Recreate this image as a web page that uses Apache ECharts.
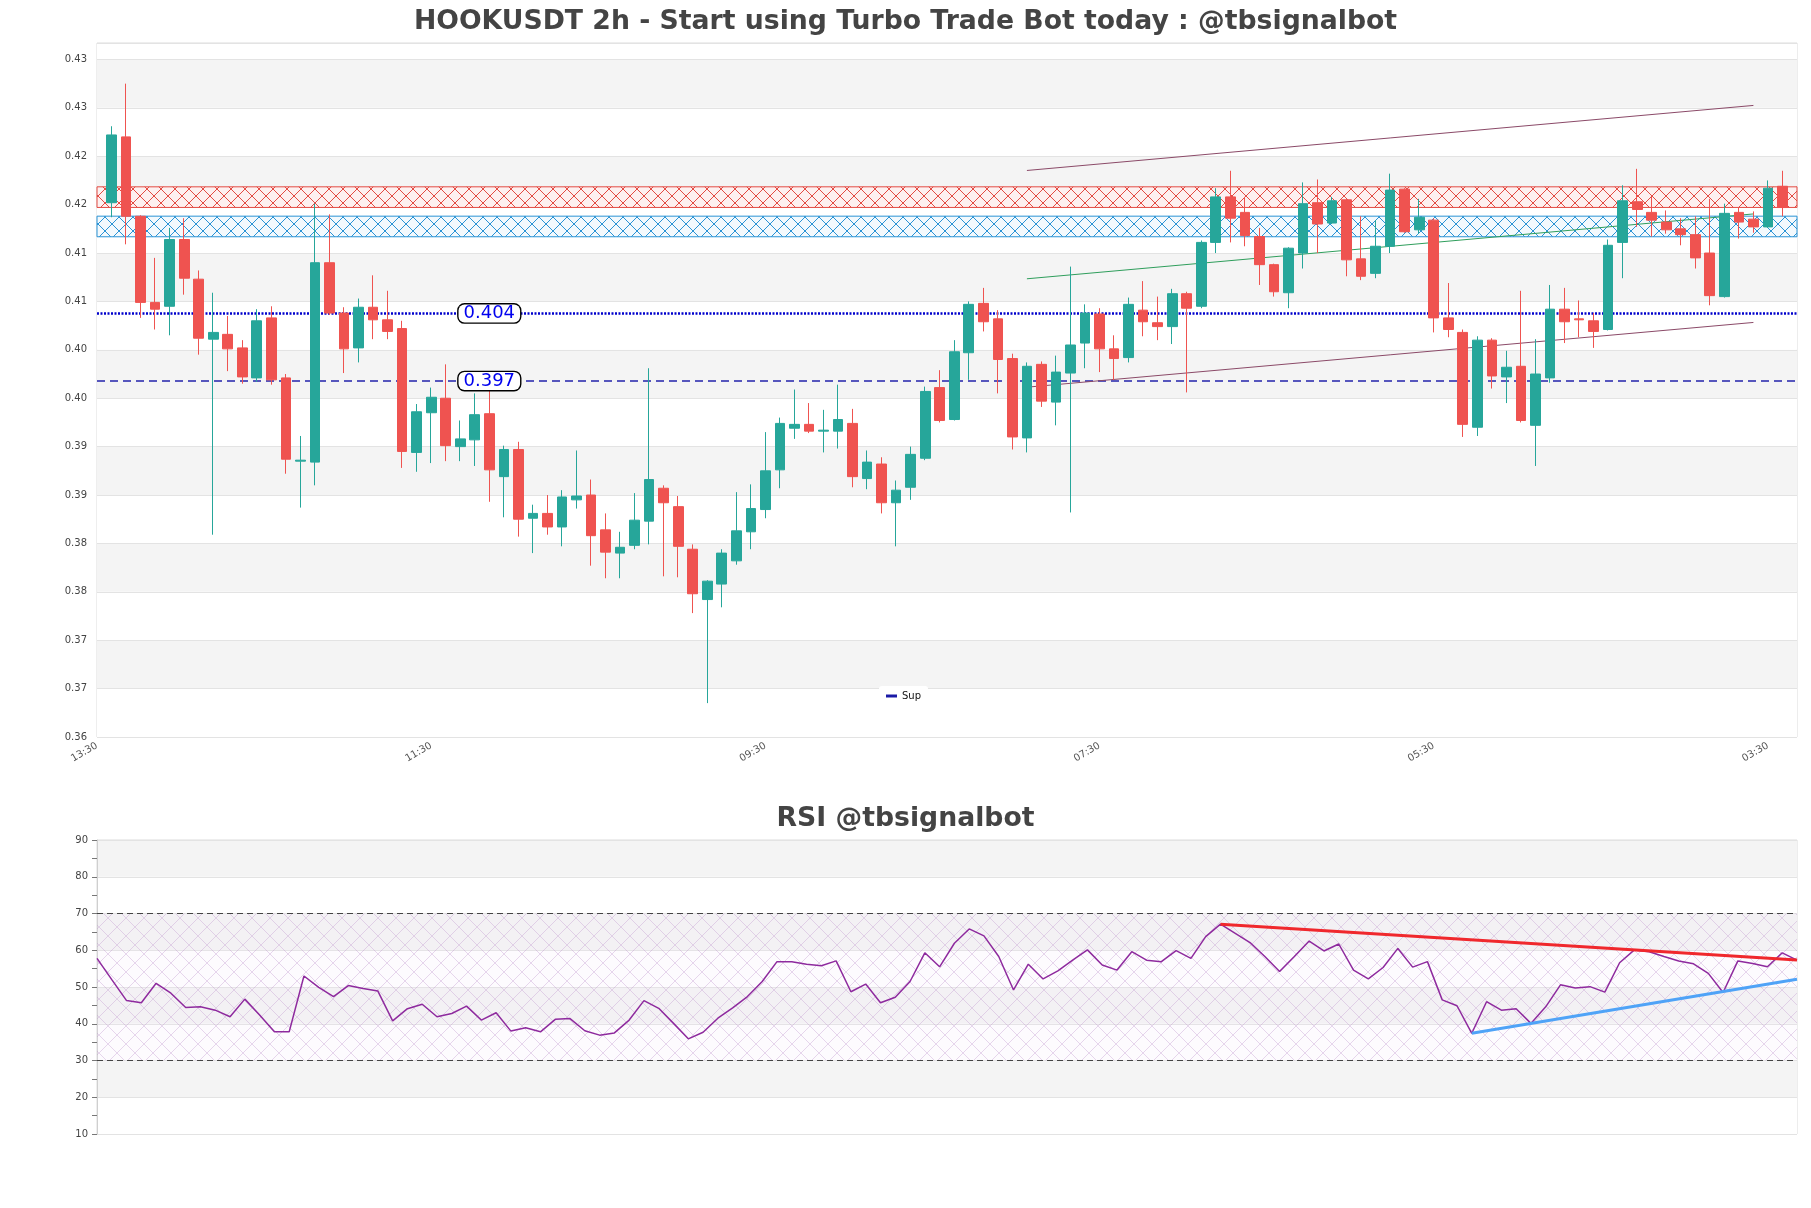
<!DOCTYPE html>
<html>
<head>
<meta charset="utf-8">
<script src="https://cdn.jsdelivr.net/npm/echarts@6/dist/echarts.min.js"></script>
<style>
html,body{margin:0;padding:0;background:#fff;}
#chart{width:1811px;height:1208px;}
</style>
</head>
<body>
<div id="chart"></div>
<script>
// ---------- data ----------
const timeLabels = [
'13:30','15:30','17:30','19:30','21:30','23:30','01:30','03:30','05:30','07:30','09:30','11:30',
'13:30','15:30','17:30','19:30','21:30','23:30','01:30','03:30','05:30','07:30','09:30','11:30',
'13:30','15:30','17:30','19:30','21:30','23:30','01:30','03:30','05:30','07:30','09:30','11:30',
'13:30','15:30','17:30','19:30','21:30','23:30','01:30','03:30','05:30','07:30','09:30','11:30',
'13:30','15:30','17:30','19:30','21:30','23:30','01:30','03:30','05:30','07:30','09:30','11:30',
'13:30','15:30','17:30','19:30','21:30','23:30','01:30','03:30','05:30','07:30','09:30','11:30',
'13:30','15:30','17:30','19:30','21:30','23:30','01:30','03:30','05:30','07:30','09:30','11:30',
'13:30','15:30','17:30','19:30','21:30','23:30','01:30','03:30','05:30','07:30','09:30','11:30',
'13:30','15:30','17:30','19:30','21:30','23:30','01:30','03:30','05:30','07:30','09:30','11:30',
'13:30','15:30','17:30','19:30','21:30','23:30','01:30','03:30','05:30','07:30'
];

// [open, close, low, high]
const candles = [
[0.4152,0.4222,0.4137,0.4231],[0.4220,0.4138,0.4109,0.4275],[0.4138,0.4049,0.4033,0.4139],[0.4049,0.4042,0.4021,0.4095],
[0.4045,0.4114,0.4015,0.4126],[0.4114,0.4074,0.4057,0.4136],[0.4073,0.4012,0.3995,0.4082],[0.4011,0.4018,0.3809,0.4059],
[0.4016,0.4001,0.3978,0.4035],[0.4002,0.3972,0.3965,0.4010],[0.3971,0.4030,0.3967,0.4042],[0.4033,0.3969,0.3964,0.4045],
[0.3971,0.3887,0.3872,0.3975],[0.3885,0.3886,0.3837,0.3911],[0.3884,0.4090,0.3860,0.4151],[0.4090,0.4038,0.4036,0.4140],
[0.4038,0.4001,0.3976,0.4044],[0.4002,0.4044,0.3987,0.4053],[0.4044,0.4031,0.4011,0.4077],[0.4031,0.4019,0.4011,0.4061],
[0.4022,0.3895,0.3878,0.4030],[0.3894,0.3936,0.3874,0.3944],[0.3935,0.3951,0.3883,0.3961],[0.3950,0.3901,0.3885,0.3985],
[0.3900,0.3908,0.3885,0.3927],[0.3907,0.3933,0.3880,0.3955],[0.3934,0.3876,0.3843,0.3965],[0.3869,0.3897,0.3827,0.3901],
[0.3897,0.3825,0.3807,0.3905],[0.3826,0.3831,0.3790,0.3840],[0.3831,0.3817,0.3809,0.3850],[0.3817,0.3848,0.3797,0.3855],
[0.3845,0.3849,0.3836,0.3896],[0.3850,0.3808,0.3777,0.3866],[0.3814,0.3791,0.3764,0.3831],[0.3790,0.3796,0.3764,0.3812],
[0.3798,0.3824,0.3794,0.3852],[0.3823,0.3866,0.3799,0.3981],[0.3857,0.3842,0.3766,0.3860],[0.3838,0.3797,0.3765,0.3849],
[0.3794,0.3748,0.3728,0.3799],[0.3742,0.3761,0.3635,0.3762],[0.3758,0.3790,0.3734,0.3794],[0.3782,0.3813,0.3778,0.3853],
[0.3812,0.3836,0.3794,0.3861],[0.3835,0.3875,0.3826,0.3915],[0.3876,0.3924,0.3857,0.3930],[0.3919,0.3923,0.3908,0.3959],
[0.3923,0.3916,0.3914,0.3945],[0.3916,0.3917,0.3894,0.3938],[0.3916,0.3928,0.3898,0.3964],[0.3924,0.3869,0.3858,0.3939],
[0.3867,0.3884,0.3856,0.3896],[0.3882,0.3842,0.3831,0.3889],[0.3842,0.3855,0.3797,0.3865],[0.3858,0.3892,0.3845,0.3900],
[0.3888,0.3957,0.3886,0.3962],[0.3961,0.3927,0.3925,0.3979],[0.3928,0.3998,0.3927,0.4010],[0.3997,0.4047,0.3969,0.4050],
[0.4048,0.4029,0.4019,0.4064],[0.4032,0.3990,0.3955,0.4041],[0.3991,0.3910,0.3897,0.3996],[0.3909,0.3983,0.3894,0.3987],
[0.3985,0.3947,0.3941,0.3988],[0.3946,0.3977,0.3922,0.3994],[0.3976,0.4005,0.3832,0.4086],[0.4007,0.4038,0.3981,0.4047],
[0.4037,0.4001,0.3977,0.4043],[0.4001,0.3991,0.3969,0.4015],[0.3992,0.4047,0.3987,0.4054],[0.4041,0.4029,0.4014,0.4071],
[0.4028,0.4024,0.4010,0.4055],[0.4024,0.4058,0.4006,0.4063],[0.4058,0.4043,0.3956,0.4060],[0.4045,0.4111,0.4043,0.4113],
[0.4111,0.4158,0.4100,0.4167],[0.4158,0.4136,0.4111,0.4185],[0.4142,0.4118,0.4107,0.4158],[0.4117,0.4088,0.4067,0.4126],
[0.4088,0.4060,0.4055,0.4089],[0.4059,0.4105,0.4043,0.4106],[0.4100,0.4151,0.4084,0.4173],[0.4152,0.4130,0.4100,0.4176],
[0.4131,0.4154,0.4130,0.4158],[0.4155,0.4093,0.4076,0.4156],[0.4094,0.4076,0.4072,0.4138],[0.4079,0.4107,0.4074,0.4134],
[0.4107,0.4165,0.4100,0.4182],[0.4166,0.4122,0.4121,0.4167],[0.4124,0.4137,0.4120,0.4156],[0.4134,0.4033,0.4018,0.4136],
[0.4033,0.4021,0.4013,0.4069],[0.4018,0.3923,0.3910,0.4021],[0.3920,0.4010,0.3911,0.4014],[0.4010,0.3973,0.3960,0.4012],
[0.3972,0.3982,0.3945,0.3999],[0.3983,0.3927,0.3925,0.4061],[0.3922,0.3975,0.3880,0.4011],[0.3971,0.4042,0.3966,0.4067],
[0.4042,0.4029,0.4007,0.4064],[0.4032,0.4031,0.4013,0.4051],[0.4030,0.4019,0.4002,0.4038],[0.4021,0.4108,0.4020,0.4114],
[0.4111,0.4154,0.4074,0.4170],[0.4153,0.4145,0.4127,0.4187],[0.4142,0.4134,0.4117,0.4158],[0.4132,0.4124,0.4120,0.4144],
[0.4125,0.4119,0.4108,0.4136],[0.4119,0.4095,0.4084,0.4138],[0.4100,0.4056,0.4046,0.4156],[0.4055,0.4141,0.4054,0.4151],
[0.4142,0.4132,0.4115,0.4147],[0.4135,0.4127,0.4121,0.4143],[0.4127,0.4167,0.4126,0.4175],[0.4169,0.4147,0.4138,0.4185]
];

const rsiValues = [
57.8,52.0,46.3,45.7,51.0,48.3,44.4,44.6,43.7,41.9,46.7,42.4,37.8,37.8,53.0,49.9,47.4,50.4,49.6,48.9,
40.8,44.1,45.3,41.9,42.8,44.8,41.0,43.0,38.0,38.9,37.8,41.2,41.4,38.1,36.9,37.5,41.0,46.3,44.2,40.1,
35.9,37.7,41.5,44.3,47.4,51.5,56.9,56.9,56.2,55.8,57.1,48.7,50.8,45.7,47.2,51.5,59.3,55.5,61.9,65.8,
63.9,58.3,49.2,56.2,52.2,54.4,57.3,60.1,56.0,54.6,59.6,57.3,56.9,59.9,57.8,63.7,67.1,64.6,62.1,58.3,
54.2,58.3,62.5,59.8,61.7,54.6,52.2,55.3,60.5,55.4,56.9,46.5,44.9,37.4,46.0,43.7,44.1,40.1,44.6,50.6,
49.7,50.1,48.6,56.6,60.1,59.6,58.3,57.1,56.3,53.7,48.5,57.1,56.4,55.5,59.3,57.3
];

const priceAxis = [0.36, 0.4317, 0.005];   // min, max, tick step
const supLevels = [0.40376, 0.39677];      // dotted / dashed support lines
const supLabelIndex = 27;
const resistanceZone = [0.41684, 0.41471];
const supportZone = [0.41381, 0.41168];
const channelIdx = [64, 114];
const channelUpper = [0.41853, 0.42525];
const channelMid = [0.40734, 0.41404];
const channelLower = [0.39614, 0.40283];
const rsiDownTrend = [[76, 67.1], [115, 57.35]];
const rsiUpTrend = [[93, 37.4], [115, 52.1]];
const rsiBands = [30, 70];

// ---------- helpers ----------
function hatch(w, h, stroke, bg, lw) {
  const c = document.createElement('canvas');
  c.width = w; c.height = h;
  const ctx = c.getContext('2d');
  if (bg) { ctx.fillStyle = bg; ctx.fillRect(0, 0, w, h); }
  ctx.strokeStyle = stroke; ctx.lineWidth = lw;
  ctx.beginPath();
  ctx.moveTo(0, 0); ctx.lineTo(w, h);
  ctx.moveTo(w, 0); ctx.lineTo(0, h);
  ctx.stroke();
  return { image: c, repeat: 'repeat' };
}

const FONT = 'DejaVu Sans';
const lastIdx = timeLabels.length - 1;
const candleData = [['-','-','-','-']].concat(candles).concat([['-','-','-','-']]);
const rsiCats = timeLabels.slice(1, 1 + rsiValues.length);

const chart = echarts.init(document.getElementById('chart'), null, {renderer: 'canvas'});

const option = {
  animation: false,
  backgroundColor: '#fff',
  title: [
    {text: 'HOOKUSDT 2h - Start using Turbo Trade Bot today : @tbsignalbot', left: 'center', top: 4,
     textStyle: {fontFamily: FONT, fontSize: 26.7, fontWeight: 'bold', color: '#444'}},
    {text: 'RSI @tbsignalbot', left: 'center', top: 801,
     textStyle: {fontFamily: FONT, fontSize: 26.7, fontWeight: 'bold', color: '#444'}}
  ],
  legend: {
    data: [{name: 'Sup', icon: 'rect'}],
    left: 879, top: 686, padding: [5, 7],
    itemWidth: 11, itemHeight: 3,
    backgroundColor: '#fff', borderRadius: 3,
    textStyle: {fontFamily: FONT, fontSize: 10, color: '#111'}
  },
  grid: [
    {left: 97, right: 14, top: 43, height: 694, show: true, borderColor: '#dcdcdc', borderWidth: 1},
    {left: 97, right: 14, top: 840, height: 294, show: true, borderColor: '#dcdcdc', borderWidth: 1}
  ],
  xAxis: [
    {type: 'category', gridIndex: 0, data: timeLabels, boundaryGap: false,
     axisLine: {show: false}, axisTick: {show: false},
     axisLabel: {rotate: 30, interval: 22, color: '#555', fontSize: 10, fontFamily: FONT, margin: 8},
     splitLine: {show: false}},
    {type: 'category', gridIndex: 1, data: rsiCats, boundaryGap: false,
     axisLine: {show: false}, axisTick: {show: false}, axisLabel: {show: false}, splitLine: {show: false}}
  ],
  yAxis: [
    {type: 'value', gridIndex: 0, min: priceAxis[0], max: priceAxis[1], interval: priceAxis[2],
     axisLine: {show: false}, axisTick: {show: false},
     axisLabel: {showMaxLabel: false, color: '#444', fontSize: 10, fontFamily: FONT, margin: 10,
       formatter: v => (Math.round(v * 100 + 1e-7) / 100).toFixed(2)},
     splitLine: {lineStyle: {color: '#e3e3e3', width: 1}},
     splitArea: {show: true, areaStyle: {color: ['#ffffff', '#f4f4f4']}}},
    {type: 'value', gridIndex: 1, min: 10, max: 90, interval: 10,
     axisLine: {show: true, lineStyle: {color: '#cfcfcf'}},
     axisTick: {show: true, length: 5, lineStyle: {color: '#777'}},
     minorTick: {show: true, splitNumber: 2, length: 5, lineStyle: {color: '#777'}},
     axisLabel: {color: '#444', fontSize: 10, fontFamily: FONT, margin: 9},
     splitLine: {lineStyle: {color: '#e3e3e3', width: 1}},
     splitArea: {show: true, areaStyle: {color: ['#ffffff', '#f4f4f4']}}}
  ],
  series: [
    {name: 'zones', type: 'line', xAxisIndex: 0, yAxisIndex: 0, data: [], z: 1, silent: true,
     markArea: {silent: true, data: [
       [{yAxis: resistanceZone[0], itemStyle: {color: hatch(14, 14, '#e34b43', '#fdf0f0', 1), borderColor: '#e34b43', borderWidth: 1}},
        {yAxis: resistanceZone[1]}],
       [{yAxis: supportZone[0], itemStyle: {color: hatch(14, 14, '#2a93d5', '#f3f9fd', 1), borderColor: '#2a93d5', borderWidth: 1}},
        {yAxis: supportZone[1]}]
     ]}},
    {name: 'Sup', type: 'line', xAxisIndex: 0, yAxisIndex: 0, z: 2, silent: true, symbol: 'none',
     itemStyle: {color: '#1a1aa6'},
     lineStyle: {type: [2, 1.5], width: 2.5, color: '#0000cc'},
     data: [[0, supLevels[0]], [lastIdx, supLevels[0]]]},
    {name: 'Sup2', type: 'line', xAxisIndex: 0, yAxisIndex: 0, z: 2, silent: true, symbol: 'none',
     lineStyle: {type: [8, 5], width: 1.5, color: '#2222aa'},
     data: [[0, supLevels[1]], [lastIdx, supLevels[1]]]},
    {name: 'chUp', type: 'line', xAxisIndex: 0, yAxisIndex: 0, z: 2, silent: true, symbol: 'none',
     lineStyle: {color: '#8b4a68', width: 1}, data: [[channelIdx[0], channelUpper[0]], [channelIdx[1], channelUpper[1]]]},
    {name: 'chMid', type: 'line', xAxisIndex: 0, yAxisIndex: 0, z: 2, silent: true, symbol: 'none',
     lineStyle: {color: '#2f9e5c', width: 1}, data: [[channelIdx[0], channelMid[0]], [channelIdx[1], channelMid[1]]]},
    {name: 'chLow', type: 'line', xAxisIndex: 0, yAxisIndex: 0, z: 2, silent: true, symbol: 'none',
     lineStyle: {color: '#8b4a68', width: 1}, data: [[channelIdx[0], channelLower[0]], [channelIdx[1], channelLower[1]]]},
    {name: 'price', type: 'candlestick', xAxisIndex: 0, yAxisIndex: 0, z: 3, data: candleData, barWidth: '70%',
     itemStyle: {color: '#26a69a', color0: '#ef5350', borderColor: '#26a69a', borderColor0: '#ef5350', borderWidth: 1}},
    {name: 'supLabels', type: 'scatter', xAxisIndex: 0, yAxisIndex: 0, z: 5, silent: true,
     symbolSize: 0, itemStyle: {opacity: 1},
     label: {show: true, position: 'inside', color: '#0000ee', fontSize: 18, fontFamily: FONT,
       backgroundColor: '#fff', borderColor: '#000', borderWidth: 1.4, borderRadius: 6,
       padding: [0, 5, 0, 5], lineHeight: 18, opacity: 1,
       formatter: p => p.value[1].toFixed(3)},
     data: supLevels.map(v => [supLabelIndex, v])},
    {name: 'rsi', type: 'line', xAxisIndex: 1, yAxisIndex: 1, data: rsiValues, symbol: 'none', z: 3,
     lineStyle: {color: '#8e2a9e', width: 1.5},
     markLine: {silent: true, symbol: 'none', label: {show: false},
       lineStyle: {type: [6, 4], color: '#444', width: 1.2},
       data: rsiBands.map(v => ({yAxis: v}))},
     markArea: {silent: true, itemStyle: {color: hatch(18, 18, 'rgba(185,140,200,0.35)', 'rgba(240,225,245,0.15)', 1)},
       data: [[{yAxis: rsiBands[0]}, {yAxis: rsiBands[1]}]]}},
    {name: 'rsiDown', type: 'line', xAxisIndex: 1, yAxisIndex: 1, data: rsiDownTrend, symbol: 'none', z: 4,
     lineStyle: {color: '#f0282d', width: 3}},
    {name: 'rsiUp', type: 'line', xAxisIndex: 1, yAxisIndex: 1, data: rsiUpTrend, symbol: 'none', z: 4,
     lineStyle: {color: '#4fa3f7', width: 3}}
  ]
};
chart.setOption(option);
</script>
</body>
</html>
